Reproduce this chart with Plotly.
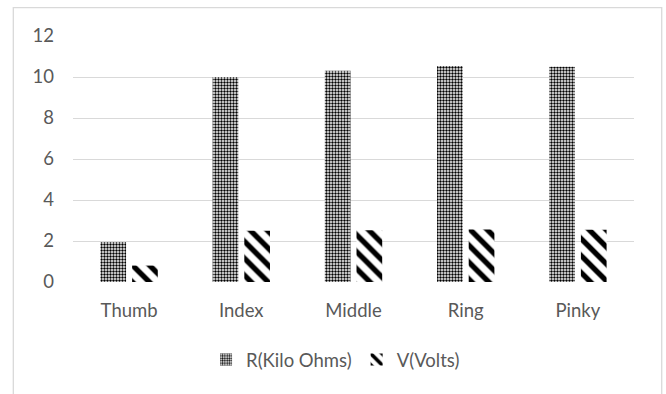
import plotly.graph_objects as go

# Finger-by-finger readings
fingers = ["Thumb", "Index", "Middle", "Ring", "Pinky"]
resistance_kohm = [1.95, 10.0, 10.3, 10.54, 10.5]
voltage_v = [0.8, 2.5, 2.52, 2.56, 2.55]
y_ticks = [0, 2, 4, 6, 8, 10, 12]

FONT = "Lato"
TEXT = "#595959"
GRID = "#d9d9d9"

fig = go.Figure()
fig.add_trace(go.Bar(
    x=fingers, y=resistance_kohm, name="R(Kilo Ohms)",
    marker=dict(color="white", line=dict(width=0),
                pattern=dict(shape=".", fgcolor="black", bgcolor="white",
                             size=3, solidity=0.5, fillmode="replace")),
))
fig.add_trace(go.Bar(
    x=fingers, y=voltage_v, name="V(Volts)",
    marker=dict(color="white", line=dict(width=0),
                pattern=dict(shape="\\", fgcolor="black", bgcolor="white",
                             size=12, solidity=0.45, fillmode="replace")),
))

fig.update_layout(
    width=666, height=394,
    margin=dict(l=73, r=32, t=36, b=112),
    paper_bgcolor="white", plot_bgcolor="white",
    barmode="group", bargap=0.435, bargroupgap=0.19,
    font=dict(family=FONT, size=18.5, color=TEXT),
    showlegend=True,
    legend=dict(orientation="h", x=0.468, xanchor="center", y=-0.317, yanchor="middle",
                font=dict(family=FONT, size=18.5, color=TEXT),
                itemwidth=30, tracegroupgap=0),
    xaxis=dict(showgrid=False, showline=False, ticks="", zeroline=False,
               tickfont=dict(family=FONT, size=18.5, color=TEXT),
               ticklabelstandoff=15),
    yaxis=dict(range=[0, 12], tickvals=y_ticks, showgrid=True, gridcolor=GRID,
               gridwidth=1.3, zeroline=False, showline=False, ticks="",
               tickfont=dict(family=FONT, size=18.5, color=TEXT),
               ticklabelstandoff=18),
    shapes=[dict(type="rect", xref="paper", yref="paper",
                 x0=-0.1064, x1=1.0494, y0=-0.6, y1=1.1152,
                 line=dict(color=GRID, width=1.3), fillcolor="rgba(0,0,0,0)",
                 layer="below")],
)

fig.write_html("out.html")
